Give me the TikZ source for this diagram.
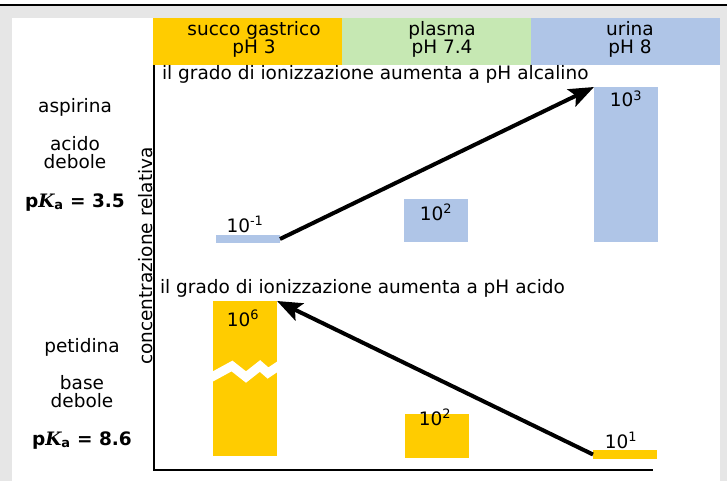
\documentclass[tikz,border=0pt]{standalone}
\usepackage{fontspec}
\setmainfont{DejaVu Sans}
\newfontfamily\serifK{DejaVu Serif}
\usetikzlibrary{arrows.meta}
\definecolor{bggray}{HTML}{E6E6E6}
\definecolor{ylw}{HTML}{FFCC00}
\definecolor{grn}{HTML}{C6E8B3}
\definecolor{blu}{HTML}{AFC5E7}
\begin{document}
\begin{tikzpicture}[x=1pt,y=-1pt,
  every node/.style={font=\fontsize{18.5pt}{18pt}\selectfont, inner sep=0pt, outer sep=0pt},
  lbl/.style={anchor=base},
  bar/.style={anchor=north west, minimum width=64pt, draw=none},
  bbar/.style={bar, fill=blu},
  ybar/.style={bar, fill=ylw},
  arr/.style={line width=4pt, -{Stealth[length=25pt,width=19pt,inset=5pt]}},
  axis/.style={line width=2pt, line cap=butt},
]
\useasboundingbox (0,0) rectangle (727,481);
% background
\fill[bggray] (0,6) rectangle (727,481);
\fill[white] (12,18) rectangle (720,481);
\draw[line width=2.2pt] (0,5.2) -- (727,5.2);
% header bands
\fill[ylw] (153,18) rectangle (342,65);
\fill[grn] (342,18) rectangle (531,65);
\fill[blu] (531,18) rectangle (720,65);
\node[lbl] (h1a) at (254,36) {succo gastrico};
\node[lbl] (h1b) at (254,54) {pH 3};
\node[lbl] (h2a) at (442,36) {plasma};
\node[lbl] (h2b) at (442,54) {pH 7.4};
\node[lbl] (h3a) at (630,36) {urina};
\node[lbl] (h3b) at (630,54) {pH 8};
% axes
\draw[axis] (154,65) -- (154,470) -- (653,470);
\node[anchor=base, rotate=90] (ylab) at (152,256) {concentrazione relativa};
% left labels
\node[lbl] (asp) at (75,113) {aspirina};
\node[lbl] (ac1) at (75,150) {acido};
\node[lbl] (ac2) at (75,168) {debole};
\node[lbl] (pka1) at (75,207) {\bfseries p{\serifK\bfseries\itshape K}\textsubscript{a} = 3.5};
\node[lbl] (pet) at (82,352) {petidina};
\node[lbl] (bs1) at (82,389) {base};
\node[lbl] (bs2) at (82,407) {debole};
\node[lbl] (pka2) at (82,445) {\bfseries p{\serifK\bfseries\itshape K}\textsubscript{a} = 8.6};
% titles
\node[anchor=base west] (t1) at (162,80) {il grado di ionizzazione aumenta a pH alcalino};
\node[anchor=base west] (t2) at (160,293) {il grado di ionizzazione aumenta a pH acido};
% upper bars
\node[bbar, minimum height=8pt] (b1) at (216,235) {};
\node[bbar, minimum height=43pt] (b2) at (404,199) {};
\node[bbar, minimum height=155pt] (b3) at (594,87) {};
\node[lbl] (l1) at (245,232) {10\textsuperscript{-1}};
\node[lbl] (l2) at (436,220) {10\textsuperscript{2}};
\node[lbl] (l3) at (626,107) {10\textsuperscript{3}};
% lower bars
\node[ybar, minimum height=155pt] (y1) at (213,301) {};
\node[ybar, minimum height=44pt] (y2) at (405,414) {};
\node[ybar, minimum height=9pt] (y3) at (593,450) {};
\node[lbl] (m1) at (243,326) {10\textsuperscript{6}};
\node[lbl] (m2) at (435,425) {10\textsuperscript{2}};
\node[lbl] (m3) at (621,448) {10\textsuperscript{1}};
% zigzag break
\begin{scope}
\clip (y1.north west) rectangle (y1.south east);
\draw[white, line width=9pt, line join=miter] (210,378) -- (232,366) -- (246,377) -- (260,366) -- (268,373) -- (280,365);
\end{scope}
% arrows
\draw[arr] (b1.east) -- (b3.north west);
\draw[arr] (y3.west) -- (y1.north east);
\end{tikzpicture}
\end{document}
